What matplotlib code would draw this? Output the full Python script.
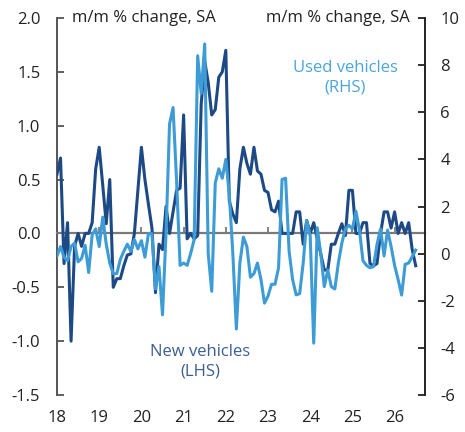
import numpy as np
import matplotlib
matplotlib.use("Agg")
import matplotlib.pyplot as plt

plt.rcParams['font.family'] = ['Open Sans', 'DejaVu Sans']

# Monthly data, Jan 2018 onwards
new_vehicles = [0.55, 0.70, -0.28, 0.10, -1.00, -0.12, 0.00, -0.12, 0.00, 0.00,
                0.10, 0.60, 0.80, 0.45, 0.09, 0.50, -0.50, -0.42, -0.42, -0.30,
                -0.20, -0.19, 0.00, 0.40, 0.80, 0.50, 0.27, 0.05, -0.55, -0.10,
                -0.15, 0.25, 0.00, 0.20, 0.40, 0.42, 1.10, -0.05, 0.00, -0.05,
                -0.02, 1.20, 1.60, 1.40, 1.10, 1.15, 1.45, 1.50, 1.70, 0.30,
                0.18, 0.10, 0.60, 0.80, 0.65, 0.55, 0.80, 0.58, 0.55, 0.40,
                0.38, 0.22, 0.20, 0.30, 0.00, 0.00, 0.00, 0.00, 0.20, 0.20,
                -0.10, 0.12, 0.00, 0.10, -0.05, -0.19, -0.34, -0.34, -0.10, -0.10,
                0.00, 0.09, -0.02, 0.40, 0.40, 0.00, 0.00, 0.10, 0.10, -0.28,
                -0.30, -0.28, 0.00, 0.20, 0.20, 0.05, 0.20, 0.00, 0.10, 0.00,
                0.10, -0.15, -0.30]
used_vehicles = [-0.10, 0.30, -0.15, -0.30, 0.30, 0.45, -0.35, -0.20, 0.35, -0.80,
                 0.80, 1.05, 0.30, 1.55, 0.40, -0.40, -0.85, -0.85, -0.25, 0.10,
                 0.40, 0.10, 0.60, 0.20, 0.55, -0.15, 0.85, 0.85, -1.50, -0.55,
                 -2.60, 0.85, 5.50, 6.20, 3.10, -0.50, -0.40, -0.50, 0.00, 0.60,
                 8.40, 6.80, 8.90, 0.00, -1.60, 3.00, 3.60, 3.20, 4.00, 2.50,
                 0.00, -3.20, -0.40, 0.70, 0.30, -1.00, -0.85, -0.40, -1.10, -2.10,
                 -1.80, -1.30, -1.30, -0.60, 3.15, 3.20, 0.10, -1.10, -1.75, -1.70,
                 -0.40, 1.40, 0.75, -3.80, 1.10, 0.00, -1.40, -0.70, -1.40, -1.50,
                 -0.40, 0.45, 1.05, 1.20, 1.05, 1.80, 1.00, -0.30, -0.50, -0.60,
                 -0.55, 0.40, 1.05, -0.10, 1.00, 0.30, -0.50, -1.10, -1.76, -0.45,
                 -0.40, -0.13, 0.15]
start_year = 18
year_ticks = [18, 19, 20, 21, 22, 23, 24, 25, 26]
left_ticks = [-1.5, -1.0, -0.5, 0.0, 0.5, 1.0, 1.5, 2.0]
right_ticks = [-6, -4, -2, 0, 2, 4, 6, 8, 10]

navy = '#1d4a85'
light = '#3d9bd6'

x = start_year + np.arange(len(new_vehicles)) / 12.0

W, H = 465, 432
fig = plt.figure(figsize=(W / 100, H / 100), dpi=100)
L, R, T, B = 57, 425, 18, 395
ax = fig.add_axes([L / W, 1 - B / H, (R - L) / W, (B - T) / H])
ax2 = ax.twinx()

ax.plot(x, new_vehicles, color=navy, lw=2.2, solid_joinstyle='round', zorder=3)
ax2.plot(x, used_vehicles, color=light, lw=2.2, solid_joinstyle='round', zorder=3)

ax.set_xlim(18, 26.72)
ax.set_ylim(-1.5, 2.0)
ax2.set_ylim(-6, 10)
ax.set_yticks(left_ticks)
ax.set_yticklabels([f"{v:.1f}" for v in left_ticks])
ax2.set_yticks(right_ticks)
ax2.set_yticklabels([str(v) for v in right_ticks])

fs = 12
for a in (ax, ax2):
    a.spines['top'].set_visible(False)
ax.spines['right'].set_visible(False)
ax2.spines['left'].set_visible(False)
ax2.spines['bottom'].set_visible(False)
ax.spines['left'].set_color('#555555')
ax.spines['left'].set_linewidth(1.4)
ax2.spines['right'].set_color('#222222')
ax2.spines['right'].set_linewidth(1.4)

# zero line with year ticks
ax.spines['bottom'].set_position(('data', 0))
ax.spines['bottom'].set_color('#7a7a7a')
ax.spines['bottom'].set_linewidth(1.6)
ax.set_xticks(year_ticks)
ax.tick_params(axis='x', direction='in', length=4.5, width=1.3, color='#7a7a7a',
               labelbottom=False)
sec = ax.secondary_xaxis('bottom')
sec.set_xticks(year_ticks)
sec.set_xticklabels([str(y) for y in year_ticks])
sec.spines['bottom'].set_visible(False)
sec.tick_params(length=0, pad=11, labelsize=fs, labelcolor='#222222')

ax.tick_params(axis='y', direction='in', length=5, width=1.3, color='#555555',
               pad=12, labelsize=fs, labelcolor='#222222')
ax2.tick_params(axis='y', direction='in', length=5, width=1.3, color='#222222',
                pad=11, labelsize=fs, labelcolor='#222222')

fig.text(72 / W, 1 - 18 / H, 'm/m % change, SA', fontsize=fs, color='#222222',
         ha='left', va='center')
fig.text(410 / W, 1 - 18 / H, 'm/m % change, SA', fontsize=fs, color='#222222',
         ha='right', va='center')
fig.text(345 / W, 1 - 78 / H, 'Used vehicles\n(RHS)', fontsize=fs, color='#4aa5dc',
         ha='center', va='center', linespacing=1.25)
fig.text(200 / W, 1 - 362 / H, 'New vehicles\n(LHS)', fontsize=fs, color='#3b5e91',
         ha='center', va='center', linespacing=1.25)

fig.savefig('out.png', dpi=100)
